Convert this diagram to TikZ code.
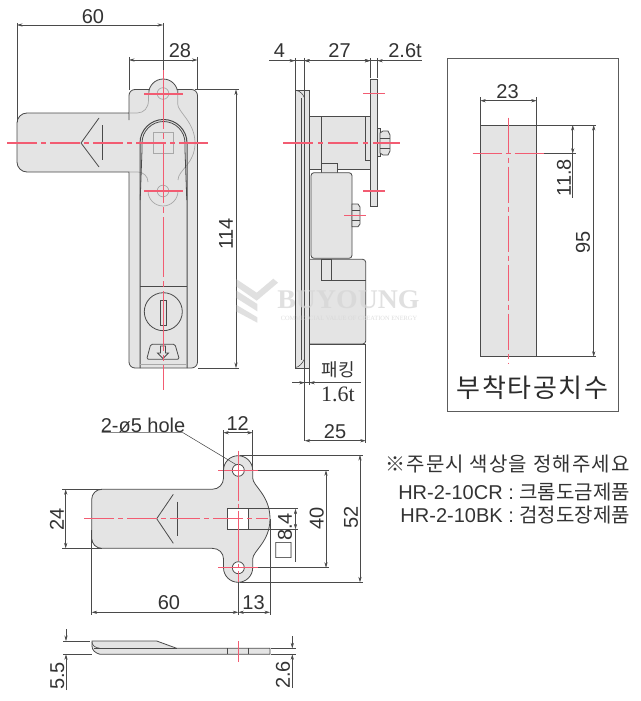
\documentclass[tikz,border=0pt]{standalone}
\usepackage{fontspec}
\setmainfont{Liberation Sans}
\newfontfamily\serifnum{Liberation Serif}
\newfontfamily\ko{Noto Sans CJK KR}
\newfontfamily\kosp[LetterSpace=6]{Noto Sans CJK KR}
\usetikzlibrary{arrows.meta}
\definecolor{partfill}{HTML}{E4E4E4}
\definecolor{ink}{HTML}{4A4A4A}
\definecolor{soft}{HTML}{A8A8A8}
\definecolor{txt}{HTML}{333333}
\definecolor{redl}{HTML}{F25C72}
\tikzset{
  x=1pt,y=-1pt,
  part/.style={draw=ink,fill=partfill,line width=0.8pt},
  edge/.style={draw=ink,line width=0.8pt},
  faint/.style={draw=soft,line width=0.7pt},
  centre/.style={redl,line width=1.4pt,dash pattern=on 30pt off 4pt on 5pt off 4pt},
  centrev/.style={redl,line width=1pt},
  centreshort/.style={redl,line width=1.4pt},
  ext/.style={draw=ink,line width=0.55pt},
  dimen/.style={draw=ink,line width=0.55pt,{Stealth[length=5.5pt,width=3.2pt]}-{Stealth[length=5.5pt,width=3.2pt]}},
  dimr/.style={draw=ink,line width=0.55pt,-{Stealth[length=5.5pt,width=3.2pt]}},
  lab/.style={text=txt,font=\fontsize{20}{20}\selectfont,inner sep=0pt},
  labv/.style={lab,rotate=90},
  wm/.style={fill=black!16,draw=none,opacity=.75},
}
\begin{document}
\begin{tikzpicture}
\useasboundingbox (0,0) rectangle (640,701);
\fill[white] (0,0) rectangle (640,701);

% ---------- front view ----------
\path[part] (129,120) -- (129,113) -- (27,113) arc[start angle=90,end angle=180,radius=10pt] -- (17,162)
  arc[start angle=180,end angle=270,radius=10pt] -- (129,172) -- (129,362)
  arc[start angle=180,end angle=270,radius=6pt] -- (191.5,368)
  arc[start angle=270,end angle=360,radius=6pt] -- (197.5,95.5)
  arc[start angle=0,end angle=90,radius=6pt] -- (177.7,89.5) -- (177.7,93.5)
  arc[start angle=0,end angle=180,radius=14.5pt] -- (148.5,89.5) -- (135,89.5)
  arc[start angle=90,end angle=180,radius=6pt] -- cycle;
\draw[faint] (129,113) -- (137,113) .. controls (144,113) and (148.5,108) .. (148.5,100) -- (148.5,90);
\draw[faint] (177.7,90) -- (177.7,104) .. controls (177.7,112) and (195,122) .. (195,143)
  .. controls (195,164) and (178,170) .. (178,180);
\draw[faint] (129,172) -- (138,172) .. controls (143,172) and (148,176) .. (148,182);
\draw[faint] (163,93.5) circle[radius=5.8pt];
\draw[faint] (163,191) circle[radius=5.8pt];
\draw[faint] (148,191) arc[start angle=180,end angle=360,radius=15pt];
\draw[edge,line width=1pt] (140,368) -- (140,143) arc[start angle=180,end angle=0,radius=23.5pt] -- (187,368);
\draw[edge] (140.2,200) -- (142,150) -- (142,143) arc[start angle=180,end angle=0,radius=21.5pt] -- (185,150) -- (186.8,200);
\draw[edge] (140,286) -- (187,286);
\draw[faint] (140,364) -- (187,364);
\draw[faint] (153,132) rectangle (173.7,153);
\draw[edge] (99,118) -- (81,143) -- (99,167);
\draw[edge] (102,125) -- (102,160);
\draw[edge] (163.3,311.7) circle[radius=19pt];
\draw[edge] (160.7,300.7) rectangle (166,325);
\draw[edge,line join=round,rounded corners=1.5pt] (150.7,344.3) -- (175,344.3) -- (179.3,359.3) -- (146.7,359.3) -- cycle;
\draw[edge] (160.5,346) -- (160.5,353) -- (157.5,353) -- (163,358.5) -- (168.5,353) -- (165.5,353) -- (165.5,346) -- cycle;
\draw[centre] (7,143) -- (208,143);
\draw[centrev,dash pattern=on 60pt off 4pt on 6pt off 4pt] (163,69) -- (163,390);
\draw[centreshort] (144,94) -- (183,94);
\draw[centreshort] (144,191) -- (183,191);

% dims front
\draw[ext] (17,23) -- (17,122);
\draw[ext] (163,23) -- (163,70);
\draw[dimen] (17,25) -- (163,25);
\node[lab] (d60a) at (93,16.5) {60};
\draw[ext] (129,57) -- (129,90);
\draw[ext] (197.5,57) -- (197.5,90);
\draw[dimen] (129,60) -- (197.5,60);
\node[lab] (d28) at (180,51) {28};
\draw[ext] (195,89.5) -- (239,89.5);
\draw[ext] (198,368) -- (239,368);
\draw[dimen] (236,89.5) -- (236,368);
\node[labv] (d114) at (226,234) {114};

% ---------- side view ----------
\path[part] (309,116) rectangle (370.3,169.3);
\path[part] (321,163) rectangle (337.7,173);
\path[part,rounded corners=3pt] (309,259.3) -- (365.7,259.3) -- (365.7,344) -- (309,344);
\draw[edge] (309,344) -- (365.7,344);
\path[part,rounded corners=3pt] (352,258.3) -- (311,258.3) -- (311,172.7) -- (352,172.7) -- cycle;
\path[part] (352,204) -- (358,204) -- (360,207) -- (360,224) -- (358,226.7) -- (352,226.7) -- cycle;
\draw[edge,line width=.6pt] (352,210) -- (360,210) (352,220) -- (360,220);
\draw[edge] (321,116) -- (321,163);
\path[part] (365.3,116) rectangle (370.3,160);
\path[part] (321,259.3) rectangle (331,280.7);
\draw[edge] (331,280.7) -- (365.7,280.7);
\path[part] (295,90) -- (309,90) -- (309,368) -- (295,368) -- cycle;
\draw[edge] (301.2,98) -- (301.2,360) (304.7,90) -- (304.7,368);
\draw[edge,line width=.6pt] (296.5,90.5) .. controls (300,91) and (303,94) .. (304.5,98);
\draw[edge,line width=.6pt] (295.5,367.5) .. controls (299,367) and (302,364) .. (304.5,359);
\path[part] (370.3,79.3) rectangle (377.3,206);
\path[part] (377.3,128.7) rectangle (380,156.7);
\path[part] (380,133) -- (383,131) -- (388,131) -- (390,135) -- (390,151) -- (388,155) -- (383,155) -- (380,153) -- cycle;
\draw[edge,line width=.6pt] (380,138) -- (390,138) (380,148) -- (390,148);
\draw[centre,dash pattern=on 30pt off 5pt on 5pt off 5pt] (283,143) -- (400,143);
\draw[centreshort] (363,93.3) -- (385,93.3);
\draw[centreshort] (363,191) -- (385,191);
\draw[centreshort] (344,215.3) -- (366,215.3);

% dims side
\draw[ext] (295,58) -- (295,90);
\draw[ext] (304.3,58) -- (304.3,90);
\draw[ext] (370.3,58) -- (370.3,78);
\draw[ext] (377.3,58) -- (377.3,78);
\draw[ext] (269,60.7) -- (422,60.7);
\draw[dimen] (304.3,60.7) -- (370.3,60.7);
\draw[dimr] (285,60.7) -- (295,60.7);
\draw[dimr] (314,60.7) -- (304.3,60.7);
\draw[dimr] (360,60.7) -- (370.3,60.7);
\draw[dimr] (387,60.7) -- (377.3,60.7);
\node[lab] (d4) at (279.5,51) {4};
\node[lab] (d27) at (339.5,51) {27};
\node[lab] (d26t) at (405,51) {2.6t};

\draw[ext] (304.7,368) -- (304.7,441);
\draw[ext] (309.3,368) -- (309.3,385);
\draw[ext] (365.7,344) -- (365.7,443);
\draw[ext] (292,382.7) -- (361,382.7);
\draw[dimr] (295,382.7) -- (304.7,382.7);
\draw[dimr] (319,382.7) -- (309.3,382.7);
\draw[dimen] (304.7,440.7) -- (365.7,440.7);
\node[lab] (d25) at (335,431.7) {25};
\node[text=txt,inner sep=0pt,font=\ko\fontsize{18}{18}\selectfont] (packing) at (338,369.5) {패킹};
\node[text=txt,inner sep=0pt,font=\serifnum\fontsize{22}{22}\selectfont] (d16t) at (338,394) {1.6t};

% ---------- mounting hole box ----------
\draw[draw=ink!90,line width=1pt] (447,58.3) rectangle (618.3,411);
\path[draw=ink,fill=partfill,line width=.8pt] (480.3,125) rectangle (536.7,356.7);
\draw[centrev,dash pattern=on 36pt off 4pt on 5pt off 4pt] (508,117.7) -- (508,364);
\draw[centre,dash pattern=on 29pt off 4pt on 5pt off 4pt] (472.7,153.7) -- (544,153.7);
\draw[ext] (480.3,97) -- (480.3,125);
\draw[ext] (536.7,97) -- (536.7,125);
\draw[dimen] (480.3,100.7) -- (536.7,100.7);
\node[lab] (d23) at (507.5,92) {23};
\draw[ext] (536.7,125) -- (596,125);
\draw[ext] (544,153.7) -- (576,153.7);
\draw[ext] (536.7,356.7) -- (596,356.7);
\draw[dimen] (572.7,125) -- (572.7,153.7);
\draw[ext] (572.7,153.7) -- (572.7,197.7);
\node[labv] (d118) at (564,177.7) {11.8};
\draw[dimen] (593.7,125) -- (593.7,356.7);
\node[labv] (d95) at (583,242) {95};
\node[text=txt!85!black,inner sep=0pt,font=\kosp\fontsize{26}{26}\selectfont] (boxtitle) at (532.5,388) {부착타공치수};

% ---------- plan view ----------
\path[part] (101.7,489.3) -- (212,489.3) .. controls (219,489.3) and (223.5,484) .. (223.5,478) -- (223.5,470.3)
  arc[start angle=180,end angle=0,radius=14.6pt] -- (252.7,478)
  .. controls (252.7,486) and (270,495) .. (270,518.7)
  .. controls (270,542) and (252.7,551) .. (252.7,559) -- (252.7,567.7)
  arc[start angle=0,end angle=-180,radius=14.6pt] -- (223.5,559)
  .. controls (223.5,553) and (219,548.3) .. (212,548.3) -- (101.7,548.3)
  arc[start angle=270,end angle=180,radius=10pt] -- (91.7,499.3)
  arc[start angle=180,end angle=90,radius=10pt] -- cycle;
\draw[edge,fill=white] (238.3,470.3) circle[radius=6pt];
\draw[edge,fill=white] (238.3,567.7) circle[radius=6pt];
\draw[edge,fill=white] (227.7,508.7) rectangle (248.7,529.3);
\draw[edge] (173.3,494.3) -- (156.7,518.7) -- (173.3,543.3);
\draw[edge] (177,501.7) -- (177,536);
\draw[centre] (84.3,518.7) -- (268,518.7);
\draw[centrev,dash pattern=on 50pt off 3pt on 4pt off 3pt] (238.3,450.7) -- (238.3,586.7);
\draw[centreshort] (218,470.3) -- (258,470.3);
\draw[centreshort] (218,567.7) -- (258,567.7);

\node[lab] (hole) at (143,425) {2-ø5 hole};
\coordinate (holept) at (236.7,465);
\draw[ext] (101.7,432.7) -- (183,432.7) -- (holept);
\draw[ext] (223.3,430) -- (223.3,473);
\draw[ext] (252.7,430) -- (252.7,470);
\draw[dimen] (223.3,432.7) -- (252.7,432.7);
\node[lab] (d12) at (237.7,424) {12};
\draw[ext] (62,489.3) -- (101.7,489.3);
\draw[ext] (62,548.3) -- (101.7,548.3);
\draw[dimen] (65.7,489.3) -- (65.7,548.3);
\node[labv] (d24) at (57,519) {24};
\draw[ext] (91.7,530) -- (91.7,615);
\draw[ext] (238.3,582) -- (238.3,615);
\draw[ext] (270,519) -- (270,615);
\draw[dimen] (91.7,612.3) -- (238.3,612.3);
\draw[dimen] (238.3,612.3) -- (270,612.3);
\node[lab] (d60b) at (169,603) {60};
\node[lab] (d13) at (253.5,603) {13};
\draw[ext] (240,455) -- (363,455);
\draw[ext] (240,582.3) -- (363,582.3);
\draw[dimen] (360,455) -- (360,582.3);
\node[labv] (d52) at (351,517) {52};
\draw[ext] (258,470.3) -- (329,470.3);
\draw[ext] (258,567.7) -- (329,567.7);
\draw[dimen] (326,470.3) -- (326,567.7);
\node[labv] (d40) at (316.7,518) {40};
\draw[ext] (248.7,508.7) -- (298,508.7);
\draw[ext] (248.7,529.3) -- (298,529.3);
\draw[dimen] (295.5,508.7) -- (295.5,529.3);
\draw[ext] (295.5,529.3) -- (295.5,561.7);
\node[labv] (d84) at (284.3,537) {{\ko □}8.4};

% ---------- thin side view ----------
\path[part] (92,641) -- (156.7,641) -- (176.7,648.3) -- (270,648.3) -- (270,654.3) -- (100,654.3) .. controls (95,653) and (92,650) .. (92,646) -- cycle;
\draw[edge] (94,648.3) -- (176.7,648.3);
\draw[edge,line width=.6pt] (92,642) .. controls (92,645) and (95,648) .. (100,648.3);
\draw[edge] (227.3,648.3) -- (227.3,654.3) (248.3,648.3) -- (248.3,654.3);
\draw[centrev] (238.3,641) -- (238.3,662);
\draw[ext] (63,641) -- (90,641);
\draw[ext] (63,654.3) -- (92,654.3);
\draw[dimr] (66,629) -- (66,641);
\draw[dimr] (66,690) -- (66,654.3);
\node[labv] (d55) at (57.3,676) {5.5};
\draw[ext] (271,648.3) -- (296,648.3);
\draw[ext] (271,654.3) -- (296,654.3);
\draw[dimr] (292.3,636) -- (292.3,648.3);
\draw[dimr] (292.3,688) -- (292.3,654.3);
\node[labv] (d26) at (283,675) {2.6};

% ---------- notes ----------
\node[text=txt,inner sep=0pt,anchor=east,font=\kosp\fontsize{20}{20}\selectfont] (n1) at (630,464) {※주문시 색상을 정해주세요};
\node[text=txt,inner sep=0pt,anchor=east,font=\fontsize{20}{20}\selectfont] (n2) at (630,491.7) {HR-2-10CR : {\ko 크롬도금제품}};
\node[text=txt,inner sep=0pt,anchor=east,font=\fontsize{20}{20}\selectfont] (n3) at (630,515) {HR-2-10BK : {\ko 검정도장제품}};

% ---------- watermark ----------
\fill[wm] (236.7,279.3) -- (256.7,292.7) -- (273.3,278.7) -- (278,282.7) -- (256.7,300.7) -- (236.7,286.7) -- cycle;
\fill[wm] (236.7,290.7) -- (257.3,304) -- (257.3,311.3) -- (236.7,298.3) -- cycle;
\fill[wm] (236.7,305) -- (257.3,317.3) -- (257.3,322.7) -- (236.7,311.7) -- cycle;
\node[text=black!16,opacity=.75,inner sep=0pt,font=\serifnum\bfseries\fontsize{27}{27}\selectfont,xscale=1.03] (wmname) at (348.5,300) {BUYOUNG};
\node[text=black!16,opacity=.8,inner sep=0pt,font=\serifnum\fontsize{6.4}{6.4}\selectfont] (wmsub) at (349,318.5) {COMMERCIAL VALUE OF CREATION ENERGY};
\end{tikzpicture}
\end{document}
